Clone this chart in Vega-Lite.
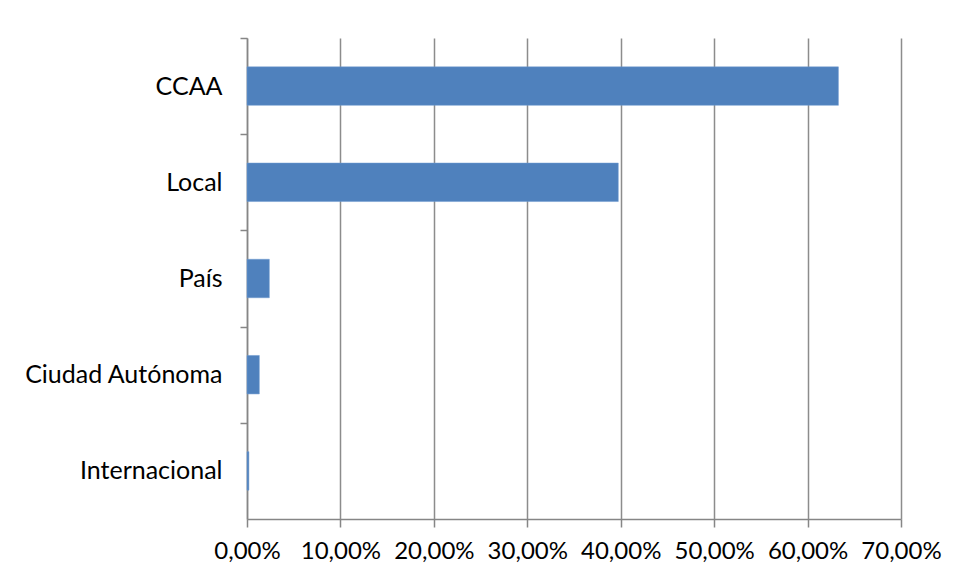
{
  "$schema": "https://vega.github.io/schema/vega-lite/v6.json",
  "width": 654,
  "height": 481,
  "autosize": {"type": "none"},
  "padding": {"left": 247, "top": 38, "right": 56, "bottom": 59},
  "background": "white",
  "config": {
    "font": "Lato",
    "view": {"stroke": null},
    "axis": {
      "labelFont": "Lato",
      "labelFontSize": 24,
      "labelColor": "#000000",
      "domainColor": "#868686",
      "domainWidth": 1.5,
      "tickColor": "#868686",
      "tickWidth": 1.5,
      "gridColor": "#8c8c8c",
      "gridWidth": 1.5
    }
  },
  "data": {
    "values": [
      {"ambito": "CCAA", "porcentaje": 0.633},
      {"ambito": "Local", "porcentaje": 0.3974},
      {"ambito": "País", "porcentaje": 0.0239},
      {"ambito": "Ciudad Autónoma", "porcentaje": 0.0132},
      {"ambito": "Internacional", "porcentaje": 0.002}
    ]
  },
  "mark": {"type": "bar", "color": "#4F81BD", "stroke": "#6F9BD0", "strokeWidth": 0.5},
  "encoding": {
    "y": {
      "field": "ambito",
      "type": "nominal",
      "sort": null,
      "scale": {"paddingInner": 0.6, "paddingOuter": 0.3},
      "axis": {
        "title": null,
        "grid": false,
        "tickSize": 7,
        "tickOffset": -48.1,
        "labelOffset": 48.1,
        "labelPadding": 18,
        "labelFontSize": 25,
        "labelLimit": 0
      }
    },
    "x": {
      "field": "porcentaje",
      "type": "quantitative",
      "scale": {"domain": [0, 0.7], "nice": false},
      "axis": {
        "title": null,
        "values": [0, 0.1, 0.2, 0.3, 0.4, 0.5, 0.6, 0.7],
        "grid": true,
        "tickSize": 8,
        "labelPadding": 12,
        "labelOverlap": false,
        "labelFlush": false,
        "labelExpr": "replace(format(datum.value, '.2%'), '.', ',')"
      }
    }
  }
}
